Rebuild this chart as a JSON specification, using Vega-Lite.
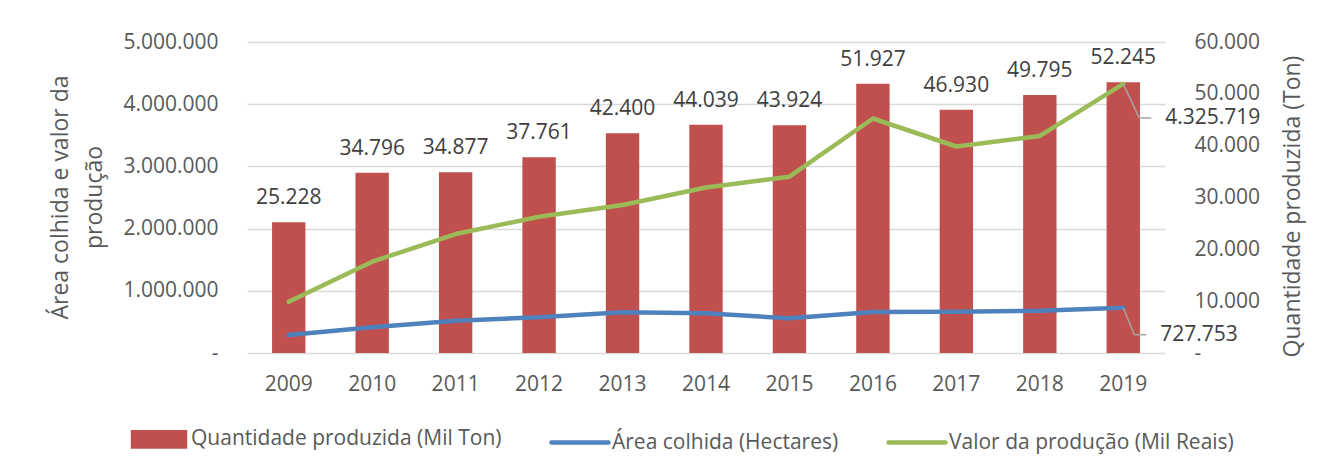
{
  "$schema": "https://vega.github.io/schema/vega-lite/v6.json",
  "autosize": {"type": "none"},
  "width": 918,
  "height": 311,
  "padding": {"left": 247, "top": 42, "right": 163, "bottom": 117},
  "background": "white",
  "config": {
    "locale": {"number": {"decimal": ",", "thousands": ".", "grouping": [3], "currency": ["R$", ""]}},
    "view": {"stroke": null},
    "font": "Open Sans",
    "axis": {"labelFont": "Open Sans", "titleFont": "Open Sans", "labelColor": "#595959", "titleColor": "#595959", "titleFontWeight": "normal", "labelFontSize": 21, "titleFontSize": 23, "domain": false, "ticks": false},
    "legend": {"labelFont": "Open Sans", "labelFontSize": 21, "labelColor": "#595959"}
  },
  "data": {"values": [
    {"ano": "2009", "qtd": 25228, "area": 289000, "valor": 825000},
    {"ano": "2010", "qtd": 34796, "area": 413000, "valor": 1468000},
    {"ano": "2011", "qtd": 34877, "area": 520000, "valor": 1913000},
    {"ano": "2012", "qtd": 37761, "area": 573000, "valor": 2190000},
    {"ano": "2013", "qtd": 42400, "area": 654000, "valor": 2380000},
    {"ano": "2014", "qtd": 44039, "area": 638000, "valor": 2660000},
    {"ano": "2015", "qtd": 43924, "area": 558000, "valor": 2835000},
    {"ano": "2016", "qtd": 51927, "area": 659000, "valor": 3770000},
    {"ano": "2017", "qtd": 46930, "area": 662000, "valor": 3320000},
    {"ano": "2018", "qtd": 49795, "area": 680000, "valor": 3490000},
    {"ano": "2019", "qtd": 52245, "area": 727753, "valor": 4325719}
  ]},
  "layer": [
    {
      "layer": [
        {
          "mark": {"type": "bar", "color": "#C0504D"},
          "encoding": {
            "x": {"field": "ano", "type": "ordinal", "scale": {"paddingInner": 0.6, "paddingOuter": 0.3}, "axis": {"title": null, "labelAngle": 0, "labelPadding": 20, "labelFontSize": 21}},
            "y": {"field": "qtd", "type": "quantitative", "scale": {"domain": [0, 60000], "nice": false}, "axis": {"orient": "right", "title": "Quantidade  produzida (Ton)", "values": [0, 10000, 20000, 30000, 40000, 50000, 60000], "grid": false, "labelPadding": 29, "labelExpr": "datum.value === 0 ? '-' : datum.label", "titleAngle": -90, "titleX": 134, "titleY": 164, "titleAlign": "center", "titleBaseline": "alphabetic"}},
            "color": {"datum": "qtd", "type": "nominal", "scale": {"domain": ["qtd", "area", "valor"], "range": ["#C0504D", "#4F81BD", "#9BBB59"]},
              "legend": {"orient": "none", "direction": "horizontal", "legendX": -119, "legendY": 366, "title": null, "symbolSize": 3249, "columnPadding": 40, "labelOffset": 1, "labelLimit": 500,
                "labelExpr": "datum.value === 'qtd' ? 'Quantidade produzida (Mil Ton)' : datum.value === 'area' ? 'Área colhida (Hectares)' : 'Valor da produção (Mil Reais)'",
                "encode": {"symbols": {"update": {
                  "shape": {"signal": "datum.value === 'qtd' ? 'M-0.91,-0.25L0.91,-0.25L0.91,0.25L-0.91,0.25Z' : 'stroke'"},
                  "fill": {"signal": "datum.value === 'qtd' ? '#C0504D' : 'transparent'"},
                  "stroke": {"signal": "datum.value === 'qtd' ? 'transparent' : (datum.value === 'area' ? '#4F81BD' : '#9BBB59')"},
                  "strokeWidth": {"value": 4.5},
                  "strokeCap": {"value": "round"},
                  "opacity": {"value": 1}
                }}}}}
          }
        },
        {
          "mark": {"type": "text", "font": "Open Sans", "fontSize": 21, "color": "#404040", "baseline": "alphabetic", "dy": -18},
          "encoding": {
            "x": {"field": "ano", "type": "ordinal"},
            "y": {"field": "qtd", "type": "quantitative"},
            "text": {"field": "qtd", "type": "quantitative", "format": ","}
          }
        }
      ]
    },
    {
      "transform": [{"fold": ["area", "valor"], "as": ["serie", "v"]}],
      "layer": [
        {
          "mark": {"type": "line", "strokeWidth": 4.5, "strokeJoin": "round", "strokeCap": "round"},
          "encoding": {
            "x": {"field": "ano", "type": "ordinal"},
            "y": {"field": "v", "type": "quantitative", "scale": {"domain": [0, 5000000], "nice": false}, "axis": {"orient": "left", "title": ["Área colhida e valor da", "produção"], "values": [0, 1000000, 2000000, 3000000, 4000000, 5000000], "grid": true, "gridColor": "#D9D9D9", "gridWidth": 1.5, "labelPadding": 29, "labelExpr": "datum.value === 0 ? '-\u00a0\u00a0' : datum.label", "titleAngle": -90, "titleX": -180, "titleY": 155, "titleAlign": "center", "titleBaseline": "alphabetic", "titleLineHeight": 34}},
            "color": {"field": "serie", "type": "nominal", "legend": {"title": null}}
          }
        },
        {
          "transform": [{"filter": "datum.ano === '2019' && datum.serie === 'valor'"}],
          "layer": [
            {"mark": {"type": "rule", "color": "#A6A6A6", "strokeWidth": 1.5, "x2Offset": 16, "y2Offset": 34},
              "encoding": {"x": {"field": "ano", "type": "ordinal", "bandPosition": 0.5}, "x2": {"field": "ano", "bandPosition": 0.5}, "y": {"field": "v", "type": "quantitative"}, "y2": {"field": "v"}}},
            {"mark": {"type": "rule", "color": "#A6A6A6", "strokeWidth": 1.5, "xOffset": 16, "x2Offset": 28, "yOffset": 34},
              "encoding": {"x": {"field": "ano", "type": "ordinal", "bandPosition": 0.5}, "x2": {"field": "ano", "bandPosition": 0.5}, "y": {"field": "v", "type": "quantitative"}}},
            {"mark": {"type": "text", "font": "Open Sans", "fontSize": 21, "color": "#404040", "align": "left", "baseline": "middle", "dx": 42, "dy": 34},
              "encoding": {"x": {"field": "ano", "type": "ordinal"}, "y": {"field": "v", "type": "quantitative"}, "text": {"field": "v", "type": "quantitative", "format": ","}}}
          ]
        },
        {
          "transform": [{"filter": "datum.ano === '2019' && datum.serie === 'area'"}],
          "layer": [
            {"mark": {"type": "rule", "color": "#A6A6A6", "strokeWidth": 1.5, "x2Offset": 11, "y2Offset": 27},
              "encoding": {"x": {"field": "ano", "type": "ordinal", "bandPosition": 0.5}, "x2": {"field": "ano", "bandPosition": 0.5}, "y": {"field": "v", "type": "quantitative"}, "y2": {"field": "v"}}},
            {"mark": {"type": "rule", "color": "#A6A6A6", "strokeWidth": 1.5, "xOffset": 11, "x2Offset": 23, "yOffset": 27},
              "encoding": {"x": {"field": "ano", "type": "ordinal", "bandPosition": 0.5}, "x2": {"field": "ano", "bandPosition": 0.5}, "y": {"field": "v", "type": "quantitative"}}},
            {"mark": {"type": "text", "font": "Open Sans", "fontSize": 21, "color": "#404040", "align": "left", "baseline": "middle", "dx": 37, "dy": 27},
              "encoding": {"x": {"field": "ano", "type": "ordinal"}, "y": {"field": "v", "type": "quantitative"}, "text": {"field": "v", "type": "quantitative", "format": ","}}}
          ]
        }
      ]
    }
  ],
  "resolve": {"scale": {"y": "independent"}}
}
